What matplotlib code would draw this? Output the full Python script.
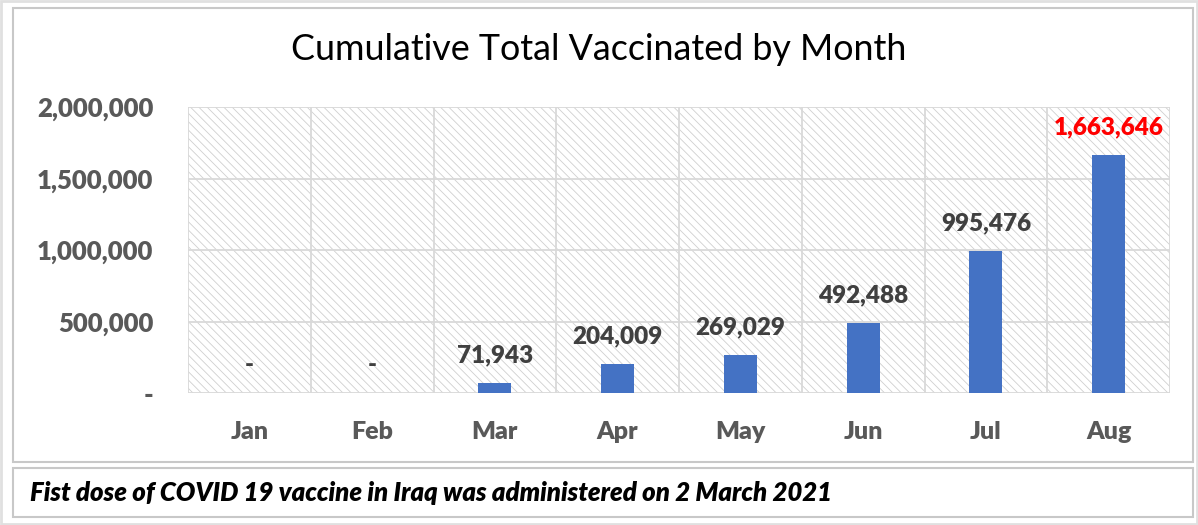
import matplotlib.pyplot as plt
from matplotlib.patches import Rectangle
from matplotlib.ticker import FuncFormatter

months = ["Jan", "Feb", "Mar", "Apr", "May", "Jun", "Jul", "Aug"]
vaccinated = [0, 0, 71943, 204009, 269029, 492488, 995476, 1663646]
y_ticks = [0, 500000, 1000000, 1500000, 2000000]

W, H = 1198, 525
plt.rcParams["hatch.linewidth"] = 0.6
fig = plt.figure(figsize=(W / 100, H / 100), dpi=100)
fig.patch.set_facecolor("white")

def px_rect(x0, y0, x1, y1, **kw):
    # rectangle given in pixel coords from top-left
    r = Rectangle((x0 / W, 1 - y1 / H), (x1 - x0) / W, (y1 - y0) / H,
                  transform=fig.transFigure, **kw)
    fig.add_artist(r)

px_rect(1, 1, 1197, 524, facecolor="white", edgecolor="#e0e0e0", linewidth=2, zorder=0)
px_rect(13, 8, 1193, 462, facecolor="white", edgecolor="#c8c8c8", linewidth=1.5, zorder=0)
px_rect(13, 468, 1193, 517, facecolor="white", edgecolor="#c8c8c8", linewidth=1.5, zorder=0)

ax = fig.add_axes([188 / W, 1 - 393 / H, (1170 - 188) / W, (393 - 107) / H])
ax.set_facecolor("white")
ax.add_patch(Rectangle((0, 0), 1, 1, transform=ax.transAxes, facecolor="white",
                       edgecolor="#cfcfcf", linewidth=0, hatch="\\\\\\\\", zorder=0))

x = list(range(len(months)))
ax.bar(x, vaccinated, width=0.27, color="#4472C4", zorder=3)

ax.set_xlim(-0.5, len(months) - 0.5)
ax.set_ylim(0, 2000000)
ax.set_yticks(y_ticks)
ax.yaxis.set_major_formatter(FuncFormatter(lambda v, p: "-" if v == 0 else f"{int(v):,}"))
ax.set_xticks(x)
ax.set_xticklabels(months)

# grid lines: horizontal at ticks, vertical between categories
for v in y_ticks:
    ax.axhline(v, color="#d9d9d9", linewidth=1.3, zorder=1)
for i in range(len(months) + 1):
    ax.axvline(i - 0.5, color="#d9d9d9", linewidth=1.3, zorder=1)

for s in ax.spines.values():
    s.set_visible(False)
ax.tick_params(length=0)
ax.tick_params(axis="y", pad=25, labelsize=18.5, labelcolor="#595959")
ax.tick_params(axis="x", pad=20, labelsize=18, labelcolor="#595959")
for lab in ax.get_xticklabels() + ax.get_yticklabels():
    lab.set_fontfamily("Lato")
    lab.set_fontweight("heavy")

for i, v in enumerate(vaccinated):
    txt = "-" if v == 0 else f"{v:,}"
    col = "#FF0000" if i == len(vaccinated) - 1 else "#404040"
    ax.annotate(txt, (i, v), xytext=(0, 12), textcoords="offset points",
                ha="center", va="bottom", fontsize=17.5, fontweight="heavy",
                fontfamily="Lato", color=col, zorder=4)

fig.text(0.5, 1 - 50 / H, "Cumulative Total Vaccinated by Month", ha="center", va="center",
         fontsize=25.8, fontfamily="Lato", color="black")
fig.text(30 / W, 1 - 493 / H, "Fist dose of COVID 19 vaccine in Iraq was administered on 2 March 2021",
         ha="left", va="center", fontsize=18.5, fontfamily="Lato", fontweight="heavy",
         fontstyle="italic", color="black")

fig.savefig("out.png", dpi=100, facecolor=fig.get_facecolor())
